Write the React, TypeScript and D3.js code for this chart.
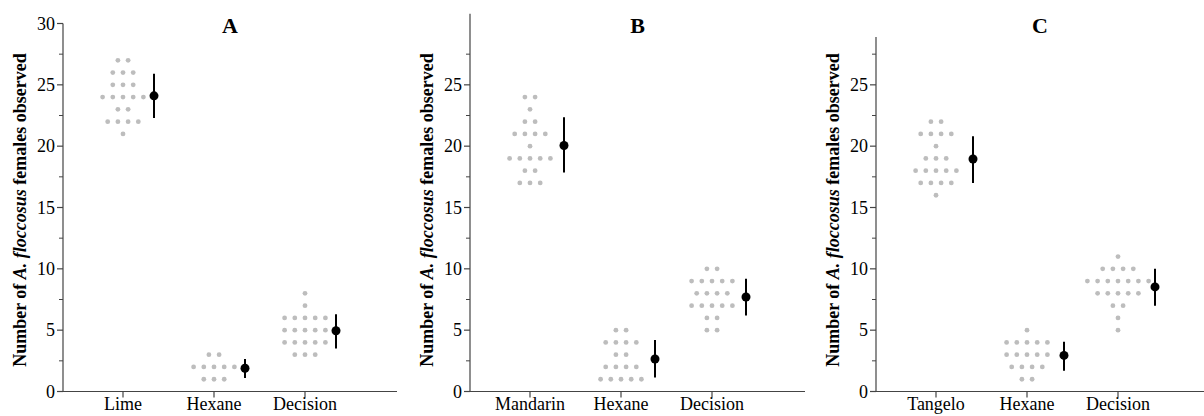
import * as d3 from "d3";
import { useEffect, useRef } from "react";

// panel titles and categories
const panelTitles = ["A", "B", "C"];
const categoriesA = ["Lime", "Hexane", "Decision"];
const categoriesB = ["Mandarin", "Hexane", "Decision"];
const categoriesC = ["Tangelo", "Hexane", "Decision"];

const limeObs = [27, 27, 26, 26, 26, 25, 25, 25, 24, 24, 24, 24, 24, 23, 23, 22, 22, 22, 22, 21];
const hexaneAObs = [3, 3, 2, 2, 2, 2, 2, 1, 1, 1];
const decisionAObs = [8, 7, 6, 6, 6, 6, 6, 5, 5, 5, 5, 5, 4, 4, 4, 4, 4, 3, 3, 3];

const mandarinObs = [24, 24, 23, 22, 22, 21, 21, 21, 21, 20, 19, 19, 19, 19, 19, 18, 18, 17, 17, 17];
const hexaneBObs = [5, 5, 4, 4, 4, 4, 3, 3, 2, 2, 2, 2, 1, 1, 1, 1, 1];
const decisionBObs = [10, 10, 9, 9, 9, 9, 9, 8, 8, 8, 8, 7, 7, 7, 7, 7, 6, 6, 5, 5];

const tangeloObs = [22, 22, 21, 21, 21, 21, 20, 19, 19, 19, 18, 18, 18, 18, 18, 17, 17, 17, 17, 16];
const hexaneCObs = [5, 4, 4, 4, 4, 4, 3, 3, 3, 3, 3, 2, 2, 2, 2, 1, 1];
const decisionCObs = [11, 10, 10, 10, 10, 9, 9, 9, 9, 9, 9, 9, 8, 8, 8, 8, 8, 7, 7, 6, 5];

// error bar ends [low, high]
const barsA = [[22.3, 25.9], [1.1, 2.65], [3.5, 6.3]];
const barsB = [[17.85, 22.35], [1.15, 4.2], [6.2, 9.2]];
const barsC = [[17.0, 20.8], [1.7, 4.05], [7.0, 10.0]];

const yLabelTicks = [0, 5, 10, 15, 20, 25, 30];
const yMinorTicks = [2.5, 7.5, 12.5, 17.5, 22.5, 27.5];

const panels = [
  { title: panelTitles[0], cats: categoriesA, obs: [limeObs, hexaneAObs, decisionAObs], bars: barsA, x0: 63, x1: 397, top: 30, maxLabel: 30, meanDx: 31 },
  { title: panelTitles[1], cats: categoriesB, obs: [mandarinObs, hexaneBObs, decisionBObs], bars: barsB, x0: 470, x1: 805, top: 30.8, maxLabel: 25, meanDx: 34 },
  { title: panelTitles[2], cats: categoriesC, obs: [tangeloObs, hexaneCObs, decisionCObs], bars: barsC, x0: 876, x1: 1210, top: 28.9, maxLabel: 25, meanDx: 37 },
];

const W = 1204;
const H = 416;
const FONT = "'Liberation Serif', 'Times New Roman', serif";

export default function App() {
  const ref = useRef<SVGSVGElement>(null);

  useEffect(() => {
    const svg = d3.select(ref.current);
    svg.selectAll("*").remove();

    const y = d3.scaleLinear().domain([0, 30]).range([391.5, 23.5]);
    const axisColor = "#444";

    panels.forEach((p) => {
      const g = svg.append("g");
      const x = d3.scalePoint<string>().domain(p.cats).range([p.x0 + 60, p.x0 + 242]);

      // y axis line + ticks
      g.append("line")
        .attr("x1", p.x0).attr("x2", p.x0)
        .attr("y1", y(0)).attr("y2", y(p.top))
        .attr("stroke", axisColor).attr("stroke-width", 1.2);
      const majors = yLabelTicks.filter((t) => t <= p.maxLabel);
      const minors = yMinorTicks.filter((t) => t <= p.top);
      g.selectAll(".ymaj").data(majors).enter().append("line")
        .attr("x1", p.x0 - 6).attr("x2", p.x0)
        .attr("y1", (d) => y(d)).attr("y2", (d) => y(d))
        .attr("stroke", axisColor).attr("stroke-width", 1.2);
      g.selectAll(".ymin").data(minors).enter().append("line")
        .attr("x1", p.x0 - 4).attr("x2", p.x0)
        .attr("y1", (d) => y(d)).attr("y2", (d) => y(d))
        .attr("stroke", axisColor).attr("stroke-width", 1);
      g.selectAll(".ylab").data(majors).enter().append("text")
        .attr("x", p.x0 - 8).attr("y", (d) => y(d))
        .attr("dy", "0.35em")
        .attr("text-anchor", "end")
        .style("font-family", FONT).style("font-size", "18px")
        .text((d) => d);

      // x axis
      g.append("line")
        .attr("x1", p.x0).attr("x2", p.x1)
        .attr("y1", y(0)).attr("y2", y(0))
        .attr("stroke", axisColor).attr("stroke-width", 1.2);
      g.selectAll(".xt").data(p.cats).enter().append("line")
        .attr("x1", (d) => x(d)!).attr("x2", (d) => x(d)!)
        .attr("y1", y(0)).attr("y2", y(0) + 6)
        .attr("stroke", axisColor).attr("stroke-width", 1.2);
      g.selectAll(".xlab").data(p.cats).enter().append("text")
        .attr("x", (d) => x(d)!).attr("y", 410)
        .attr("text-anchor", "middle")
        .style("font-family", FONT).style("font-size", "18px")
        .text((d) => d);

      // title
      g.append("text")
        .attr("x", (p.x0 + Math.min(p.x1, W)) / 2).attr("y", 33)
        .attr("text-anchor", "middle")
        .style("font-family", FONT).style("font-size", "22px").style("font-weight", "bold")
        .text(p.title);

      // y label
      const lab = g.append("text")
        .attr("transform", `translate(${p.x0 - 37},${210}) rotate(-90)`)
        .attr("text-anchor", "middle")
        .style("font-family", FONT).style("font-size", "18px").style("font-weight", "bold");
      lab.append("tspan").text("Number of ");
      lab.append("tspan").style("font-style", "italic").text("A. floccosus");
      lab.append("tspan").text(" females observed");

      // dots
      p.cats.forEach((c, i) => {
        const groups = d3.groups(p.obs[i], (v) => v);
        const pts: { cx: number; v: number }[] = [];
        groups.forEach(([v, arr]) => {
          const n = arr.length;
          arr.forEach((_, k) => pts.push({ cx: x(c)! + (k - (n - 1) / 2) * 10.2, v }));
        });
        g.selectAll(null).data(pts).enter().append("circle")
          .attr("cx", (d) => d.cx).attr("cy", (d) => y(d.v))
          .attr("r", 2.4).attr("fill", "#bdbdbd");

        const mx = x(c)! + p.meanDx;
        const m = d3.mean(p.obs[i])!;
        g.append("line")
          .attr("x1", mx).attr("x2", mx)
          .attr("y1", y(p.bars[i][0])).attr("y2", y(p.bars[i][1]))
          .attr("stroke", "#000").attr("stroke-width", 2);
        g.append("circle")
          .attr("cx", mx).attr("cy", y(m)).attr("r", 4.5).attr("fill", "#000");
      });
    });
  }, []);

  return (
    <svg ref={ref} width={W} height={H}
      style={{ position: "absolute", left: 0, top: 0, background: "#fff" }} />
  );
}
